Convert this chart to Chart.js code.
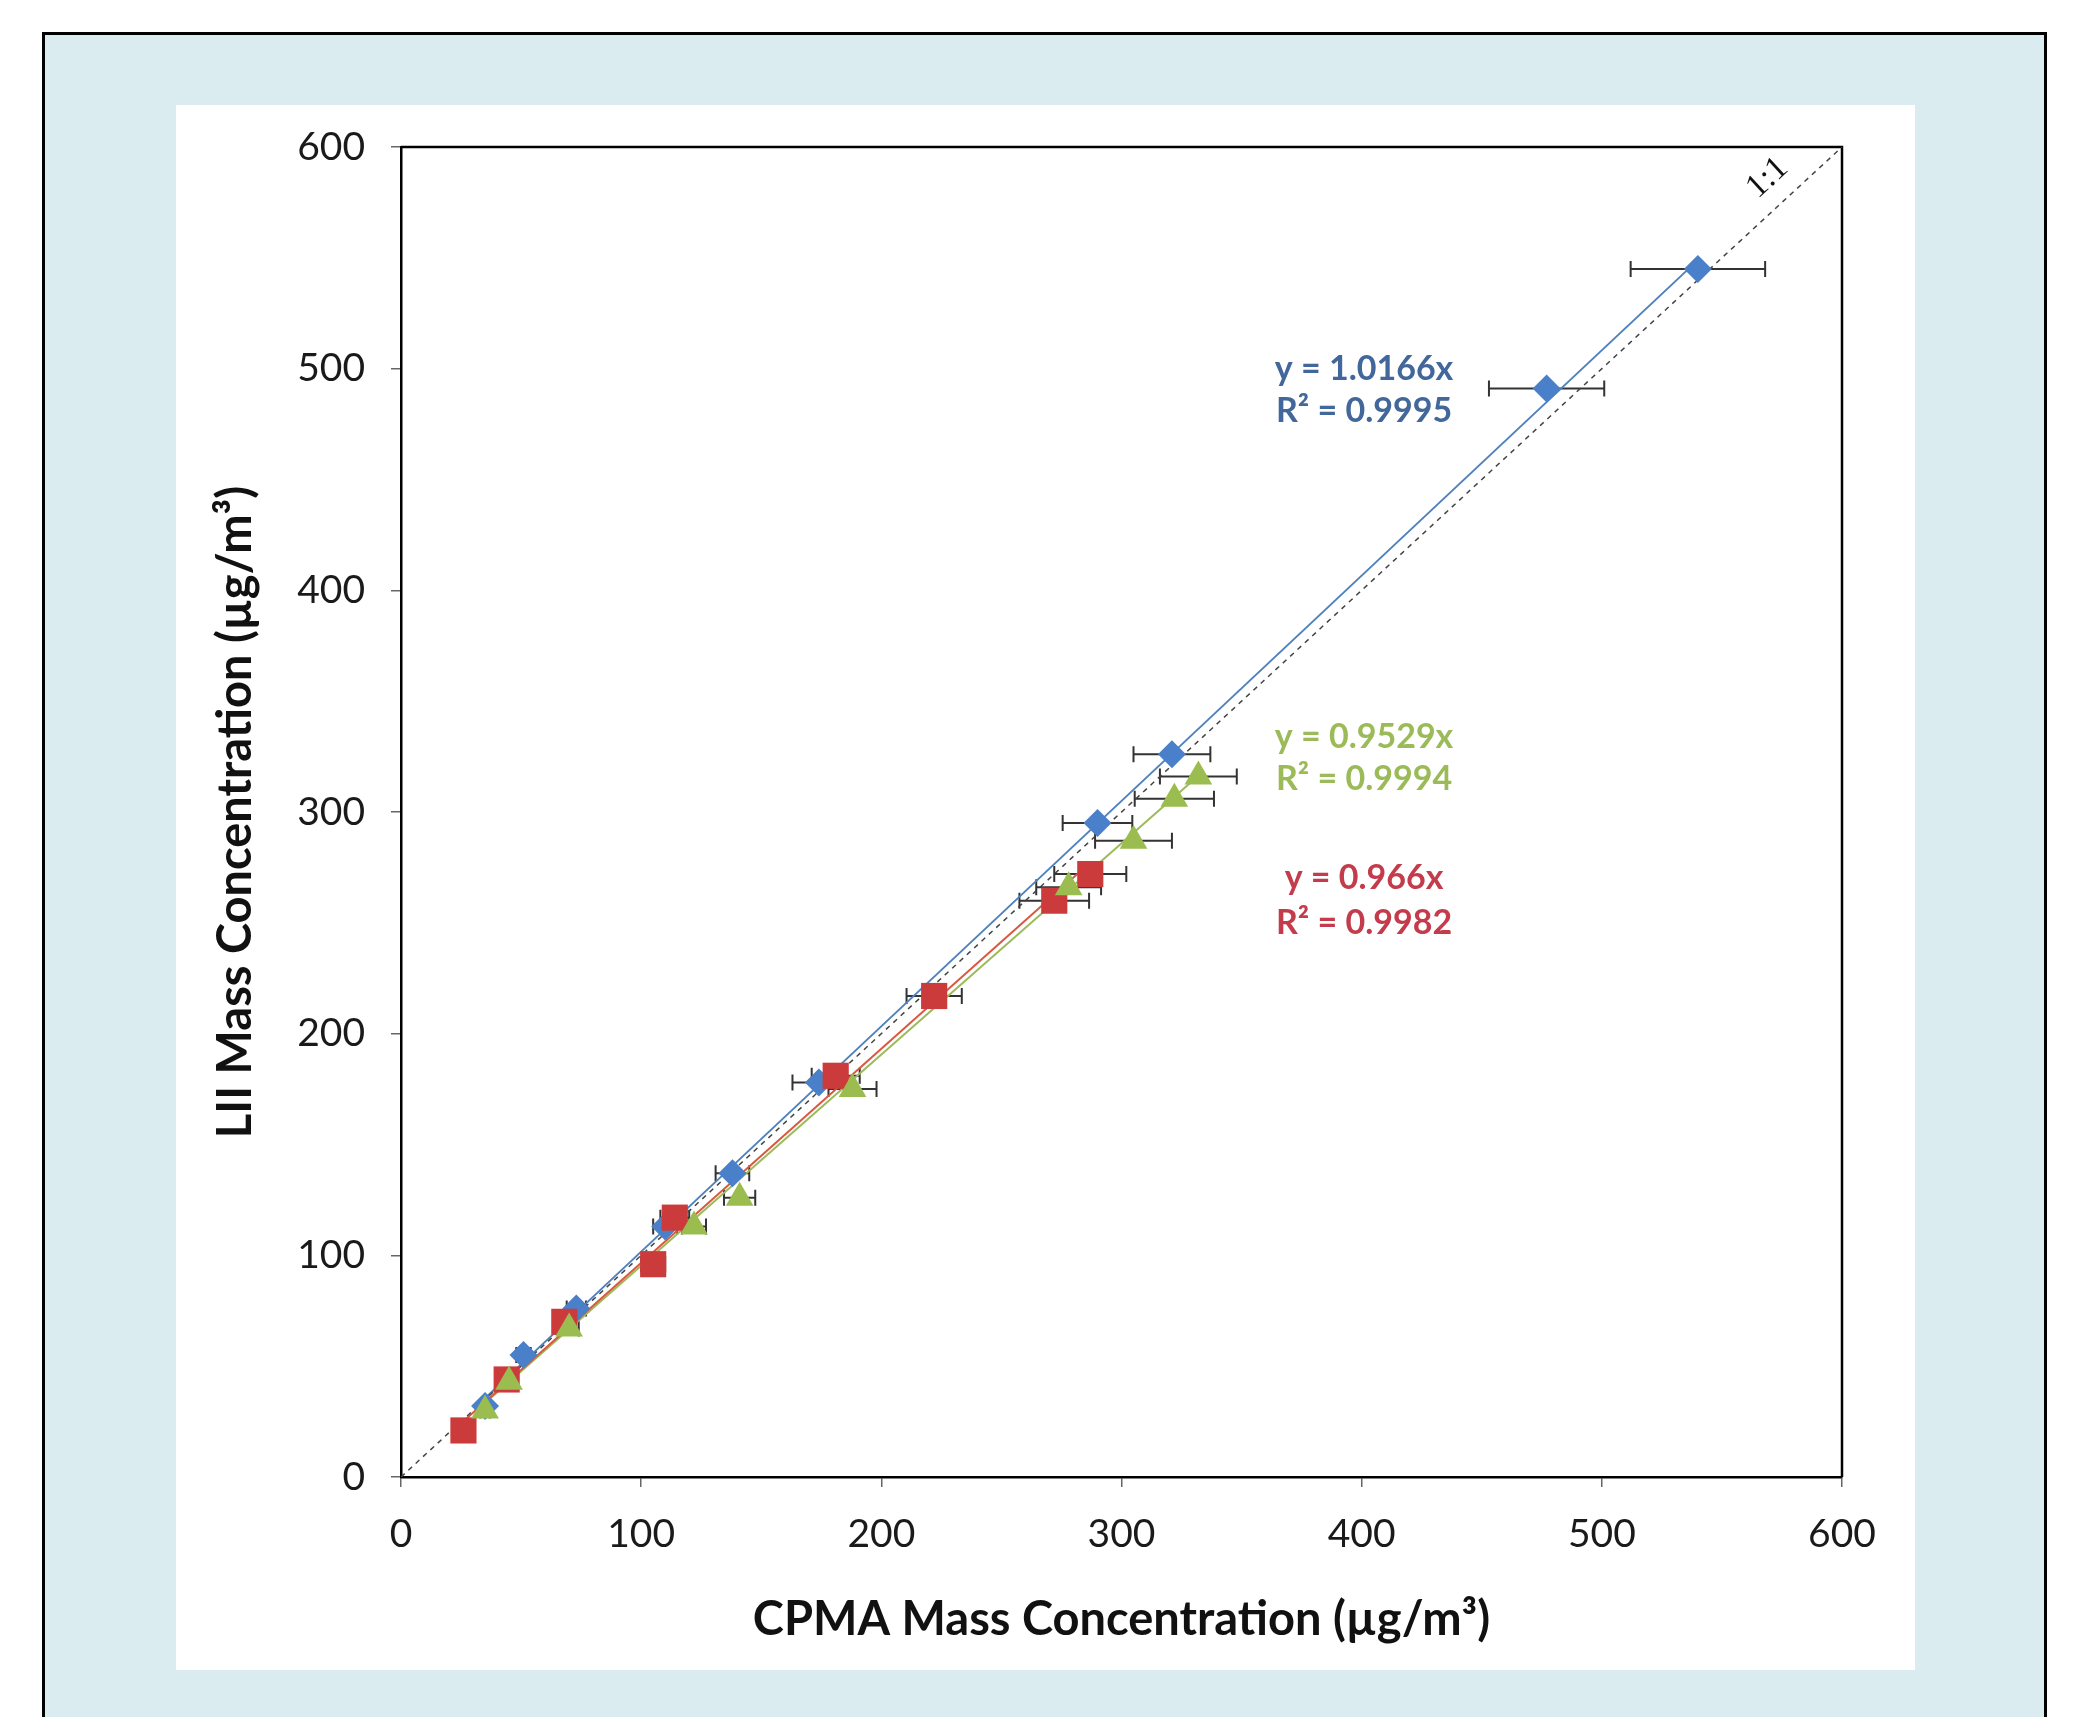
<!DOCTYPE html>
<html>
<head>
  <title>LII vs CPMA Mass Concentration</title>
  <script src="https://cdn.jsdelivr.net/npm/chart.js"></script>
  <style>
    body {
      margin: 0;
      background: #fff;
      font-family: Lato, sans-serif;
    }
    .frame {
      position: absolute;
      left: 42px;
      top: 32px;
      width: 1999px;
      height: 1700px;
      border: 3px solid #000;
      border-bottom: none;
      background: #daecf0;
    }
    .panel {
      position: absolute;
      left: 176px;
      top: 105px;
      width: 1739px;
      height: 1565px;
      background: #fff;
    }
  </style>
</head>
<body>
  <div class="frame"></div>
  <div class="panel">
    <canvas id="myChart"></canvas>
  </div>
  <script>
    // CPMA (x) vs LII (y), with horizontal error on CPMA
    const blueX = [35, 51, 73, 110, 138, 174, 290, 321, 477, 540];
    const blueY = [32, 55, 76, 113, 137, 178, 295, 326, 491, 545];
    const blueErr = [2, 3, 4, 5, 7, 11, 14.5, 16, 24, 28];

    const redX = [26, 44, 68, 105, 114, 181, 222, 272, 287];
    const redY = [21, 44, 70, 96, 117, 181, 217, 260, 272];
    const redErr = [1, 2, 3, 5, 6, 10, 11.5, 14.5, 15];

    const greenX = [35, 45, 70, 122, 141, 188, 278, 305, 322, 332];
    const greenY = [30, 43, 67, 113, 126, 175, 266, 287, 306, 316];
    const greenErr = [2, 2, 4, 5, 6.5, 10, 13.5, 16, 16.5, 16];

    // linear fits through origin, drawn over each series' x range
    const fitSlopes = [1.0166, 0.9529, 0.966];
    const fitR2 = [0.9995, 0.9994, 0.9982];
    const fitRange = [[35, 540], [35, 332], [26, 287]];

    const axisTicks = [0, 100, 200, 300, 400, 500, 600];

    const blue = '#4a7fc9', red = '#cc3b3b', green = '#9bbd4f';

    const pts = (xs, ys) => xs.map((v, i) => ({ x: v, y: ys[i] }));
    const fitLine = (k) => fitRange[k].map(v => ({ x: v, y: fitSlopes[k] * v }));

    const errSeries = [
      { xs: blueX, ys: blueY, err: blueErr },
      { xs: redX, ys: redY, err: redErr },
      { xs: greenX, ys: greenY, err: greenErr }
    ];

    const frameBox = {
      id: 'frameBox',
      beforeDatasetsDraw(chart) {
        const { ctx, chartArea: a } = chart;
        ctx.save();
        ctx.strokeStyle = '#000';
        ctx.lineWidth = 2.5;
        ctx.beginPath();
        ctx.moveTo(a.left, a.top);
        ctx.lineTo(a.right, a.top);
        ctx.lineTo(a.right, a.bottom);
        ctx.stroke();
        ctx.restore();
      }
    };

    const errorBars = {
      id: 'errorBars',
      beforeDatasetsDraw(chart) {
        const { ctx, scales: { x, y } } = chart;
        ctx.save();
        ctx.strokeStyle = '#333';
        ctx.lineWidth = 2;
        errSeries.forEach(s => {
          s.xs.forEach((v, i) => {
            const x0 = x.getPixelForValue(v - s.err[i]);
            const x1 = x.getPixelForValue(v + s.err[i]);
            const py = y.getPixelForValue(s.ys[i]);
            ctx.beginPath();
            ctx.moveTo(x0, py); ctx.lineTo(x1, py);
            ctx.moveTo(x0, py - 8); ctx.lineTo(x0, py + 8);
            ctx.moveTo(x1, py - 8); ctx.lineTo(x1, py + 8);
            ctx.stroke();
          });
        });
        ctx.restore();
      }
    };

    const fitLabels = {
      id: 'fitLabels',
      afterDatasetsDraw(chart) {
        const { ctx, scales: { x, y } } = chart;
        const labels = [
          { k: 0, at: [401, 500, 481], color: '#42679a' },
          { k: 1, at: [401, 334, 315], color: '#9bbb59' },
          { k: 2, at: [401, 270, 250], color: '#c43c4c' }
        ];
        ctx.save();
        ctx.font = 'bold 34px Lato';
        ctx.textAlign = 'center';
        ctx.textBaseline = 'middle';
        labels.forEach(l => {
          ctx.fillStyle = l.color;
          const px = x.getPixelForValue(l.at[0]);
          ctx.fillText('y = ' + fitSlopes[l.k] + 'x', px, y.getPixelForValue(l.at[1]));
          ctx.fillText('R² = ' + fitR2[l.k].toFixed(4), px, y.getPixelForValue(l.at[2]));
        });

        // 1:1 label along the dashed line
        const ang = Math.atan2(y.getPixelForValue(0) - y.getPixelForValue(600),
                               x.getPixelForValue(600) - x.getPixelForValue(0));
        ctx.translate(x.getPixelForValue(569), y.getPixelForValue(586));
        ctx.rotate(-ang);
        ctx.font = '34px "Liberation Serif"';
        ctx.fillStyle = '#111';
        ctx.fillText('1:1', 0, 0);
        ctx.restore();
      }
    };

    Chart.defaults.font.family = 'Lato';
    Chart.defaults.color = '#1a1a1a';

    const ctx = document.getElementById('myChart').getContext('2d');
    const chart = new Chart(ctx, {
      type: 'scatter',
      data: {
        datasets: [
          {
            label: 'Series 3',
            data: pts(greenX, greenY),
            pointStyle: 'triangle',
            pointRadius: 16,
            backgroundColor: green,
            borderColor: green,
            borderWidth: 0,
            order: 1
          },
          {
            label: 'Series 2',
            data: pts(redX, redY),
            pointStyle: 'rect',
            pointRadius: 18.5,
            backgroundColor: red,
            borderColor: red,
            borderWidth: 0,
            order: 2
          },
          {
            label: 'Series 1',
            data: pts(blueX, blueY),
            pointStyle: 'rectRot',
            pointRadius: 14,
            backgroundColor: blue,
            borderColor: blue,
            borderWidth: 0,
            order: 3
          },
          {
            label: '1:1',
            data: [{ x: 0, y: 0 }, { x: 600, y: 600 }],
            showLine: true,
            pointRadius: 0,
            borderColor: '#444',
            borderWidth: 1.5,
            borderDash: [5, 5],
            order: 4
          },
          {
            label: 'Fit 1',
            data: fitLine(0),
            showLine: true,
            pointRadius: 0,
            borderColor: '#4f81bd',
            borderWidth: 2,
            order: 5
          },
          {
            label: 'Fit 2',
            data: fitLine(2),
            showLine: true,
            pointRadius: 0,
            borderColor: '#d9583f',
            borderWidth: 2,
            order: 6
          },
          {
            label: 'Fit 3',
            data: fitLine(1),
            showLine: true,
            pointRadius: 0,
            borderColor: '#9bbb59',
            borderWidth: 2,
            order: 7
          }
        ]
      },
      options: {
        responsive: true,
        maintainAspectRatio: false,
        animation: false,
        layout: { padding: { top: 42, right: 73, left: 0, bottom: 0 } },
        plugins: {
          legend: { display: false },
          tooltip: { enabled: false }
        },
        scales: {
          x: {
            type: 'linear',
            min: 0,
            max: 600,
            afterBuildTicks: (s) => { s.ticks = axisTicks.map(v => ({ value: v })); },
            afterFit: (s) => { s.height = 193; },
            ticks: { font: { size: 39 }, padding: 24, color: '#1a1a1a' },
            grid: { drawOnChartArea: false, drawTicks: true, tickLength: 10, color: '#666', lineWidth: 1.5 },
            border: { display: true, color: '#000', width: 2.5 },
            title: {
              display: true,
              text: 'CPMA Mass Concentration (µg/m³)',
              font: { size: 47, weight: 'bold' },
              color: '#111',
              padding: { bottom: 22 }
            }
          },
          y: {
            type: 'linear',
            min: 0,
            max: 600,
            afterBuildTicks: (s) => { s.ticks = axisTicks.map(v => ({ value: v })); },
            afterFit: (s) => {
              s.width = 225;
              s.paddingTop = 0;
              s.paddingBottom = 0;
            },
            ticks: { font: { size: 39 }, padding: 26, color: '#1a1a1a' },
            grid: { drawOnChartArea: false, drawTicks: true, tickLength: 10, color: '#666', lineWidth: 1.5 },
            border: { display: true, color: '#000', width: 2.5 },
            title: {
              display: true,
              text: 'LII Mass Concentration (µg/m³)',
              font: { size: 47, weight: 'bold' },
              color: '#111',
              padding: { top: 32 }
            }
          }
        }
      },
      plugins: [frameBox, errorBars, fitLabels]
    });
  </script>
</body>
</html>
